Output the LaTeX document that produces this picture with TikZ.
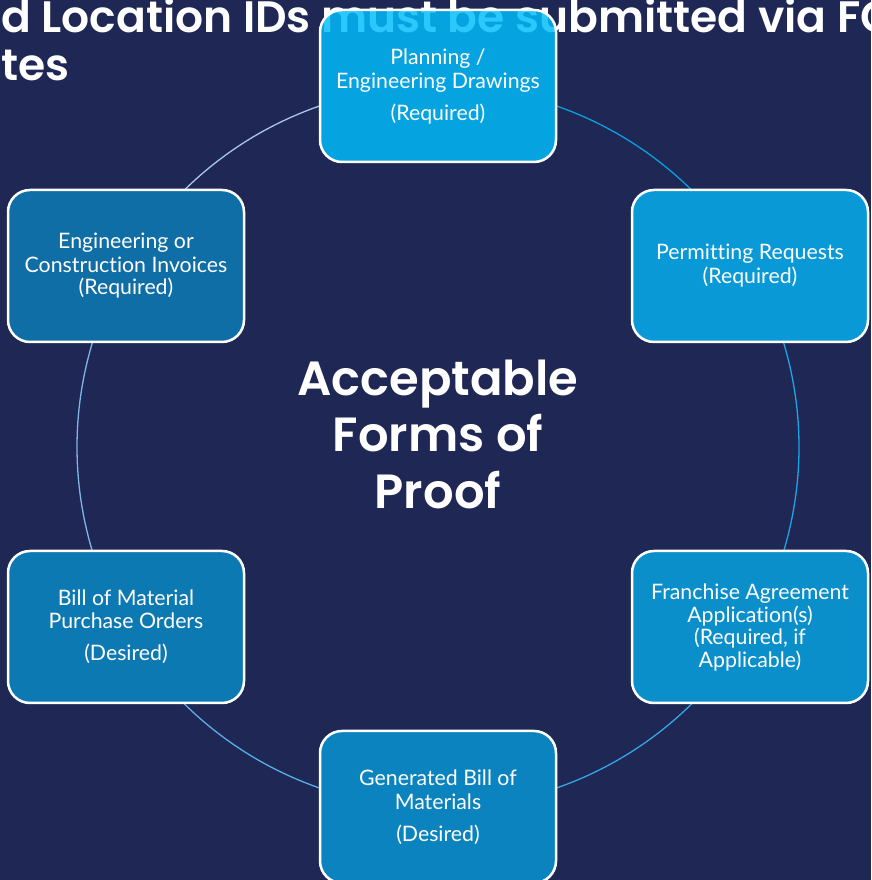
\documentclass[tikz,border=0pt]{standalone}
\usepackage{fontspec}
\setmainfont{Lato}[Ligatures=NoCommon]
\newfontfamily\titlefont{Poppins SemiBold}
\definecolor{bg}{HTML}{1F2755}
\definecolor{cTop}{RGB}{0,189,253}
\definecolor{cUR}{HTML}{0899D6}
\definecolor{cLR}{HTML}{0A8FCB}
\definecolor{cBot}{HTML}{0B83BE}
\definecolor{cLL}{HTML}{0D79B2}
\definecolor{cUL}{HTML}{0F6EA6}
\definecolor{aA}{HTML}{0AA0E0}
\definecolor{aB}{HTML}{1AA6E8}
\definecolor{aC}{HTML}{35A6E4}
\definecolor{aD}{HTML}{5AAEE8}
\definecolor{aE}{HTML}{7DB6E6}
\definecolor{aF}{HTML}{A8C6E8}
\tikzset{
  proofbox/.style={draw=white, line width=2.5pt, rounded corners=22pt,
    minimum width=236pt, minimum height=152pt, inner sep=0pt,
    text=white, align=center, font=\fontsize{21.3}{24}\selectfont},
  ring/.style={line width=1.3pt},
  headline/.style={text=white, inner sep=0pt, font=\titlefont\fontsize{44}{48}\selectfont},
  centertitle/.style={text=white, align=center, inner sep=0pt, font=\titlefont\fontsize{48}{56.5}\selectfont}
}
\begin{document}
\begin{tikzpicture}[x=1pt,y=1pt]
\fill[bg] (0,0) rectangle (871,880);
\useasboundingbox (0,0) rectangle (871,880);
\coordinate (c) at (438,433);
\begin{scope}
\clip (0,0) rectangle (871,880);
\node[headline, anchor=base west] (head1) at (1,847) {d Location IDs must be submitted via FC};
\node[headline, anchor=base west] (head2) at (1,799) {tes};
\end{scope}
% ring segments
\draw[ring, aA] (c) ++(70.9:361) arc[start angle=70.9, end angle=40, radius=361];
\draw[ring, aB] (c) ++(22:361) arc[start angle=22, end angle=-22, radius=361];
\draw[ring, aC] (c) ++(-40:361) arc[start angle=-40, end angle=-75, radius=361];
\draw[ring, aD] (c) ++(-105:361) arc[start angle=-105, end angle=-140, radius=361];
\draw[ring, aE] (c) ++(-158:361) arc[start angle=-158, end angle=-202, radius=361];
\draw[ring, aF] (c) ++(140:361) arc[start angle=140, end angle=109.1, radius=361];
% boxes
\node[proofbox, fill=cTop, fill opacity=0.83, text opacity=1, draw opacity=1] (top) at (438,794)
  {Planning /\\Engineering Drawings\\[8pt](Required)};
\node[proofbox, fill=cUR] (ur) at (750,614) {Permitting Requests\\(Required)};
\node[proofbox, fill=cLR] (lr) at (750,253)
  {Franchise Agreement\\[-1pt]Application(s)\\[-2pt](Required, if\\[-1pt]Applicable)};
\node[proofbox, fill=cBot] (bot) at (438,73) {Generated Bill of\\Materials\\[8pt](Desired)};
\node[proofbox, fill=cLL] (ll) at (126,253) {Bill of Material\\[-1pt]Purchase Orders\\[8pt](Desired)};
\node[proofbox, fill=cUL] (ul) at (126,614)
  {Engineering or\\Construction Invoices\\[-2pt](Required)};
\node[centertitle] (centre) at (438,446) {Acceptable\\Forms of\\Proof};
\end{tikzpicture}
\end{document}
